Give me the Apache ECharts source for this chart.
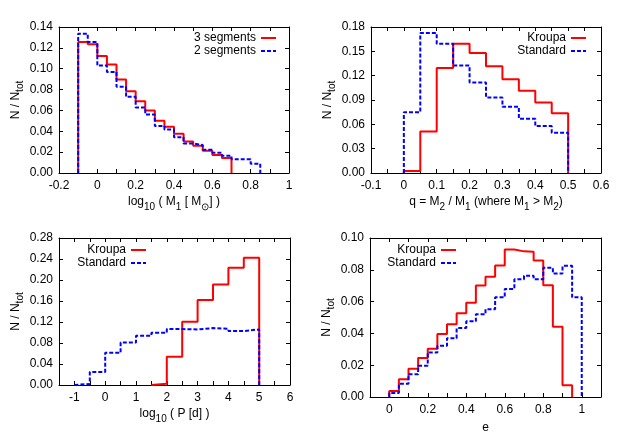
<!DOCTYPE html>
<html><head><meta charset="utf-8">
<script src="https://cdn.jsdelivr.net/npm/echarts@6/dist/echarts.min.js"></script>
<style>html,body{margin:0;padding:0;background:#fff}#c{width:623px;height:436px}</style>
</head><body><div id="c"></div>
<script>
// ---- Panel 1: primary mass log10(M1) ----
const massStart = -0.1, massBin = 0.05;
const mass3Segments = [0.1256,0.1234,0.1122,0.1040,0.0896,0.0784,0.0689,0.0600,0.0501,0.0443,0.0376,0.0303,0.0261,0.0214,0.0172,0.0143];
const mass2Segments = [0.1336,0.1256,0.1030,0.0969,0.0826,0.0730,0.0628,0.0561,0.0450,0.0418,0.0344,0.0284,0.0268,0.0223,0.0195,0.0166,0.0131,0.0131,0.0089];
// ---- Panel 2: mass ratio q ----
const qStart = 0.0, qBin = 0.05;
const qKroupa = [0.0025,0.0513,0.1296,0.1595,0.1480,0.1316,0.1156,0.1013,0.0869,0.0738];
const qStandard = [0.0750,0.1726,0.1595,0.1324,0.1115,0.0931,0.0816,0.0668,0.0578,0.0496];
// ---- Panel 3: log10(P) ----
const pKroupaStart = 1.5, pStandardStart = -1.0, pBin = 0.5;
const pKroupa = [0.0026,0.0536,0.1205,0.1620,0.1913,0.2232,0.2423];
const pStandard = [0.0019,0.0249,0.0612,0.0810,0.0938,0.0995,0.1065,0.1059,0.1084,0.1071,0.1027,0.1059];
// ---- Panel 4: eccentricity e ----
const eStart = 0.0, eBin = 0.05;
const eKroupa = [0.0038,0.0112,0.0177,0.0246,0.0303,0.0396,0.0457,0.0526,0.0592,0.0701,0.0756,0.0827,0.0928,0.0916,0.0914,0.0859,0.0703,0.0442,0.0074];
const eStandard = [0.0025,0.0084,0.0143,0.0196,0.0280,0.0322,0.0370,0.0434,0.0476,0.0520,0.0552,0.0627,0.0680,0.0741,0.0762,0.0741,0.0813,0.0777,0.0825,0.0627];

// ---- Tick labels and tick marks ----
const massTickLabels = [-0.2,0,0.2,0.4,0.6,0.8,1];
const massTicks = [-0.2,-0.1,0,0.1,0.2,0.3,0.4,0.5,0.6,0.7,0.8,0.9,1];
const qTickLabels = [-0.1,0,0.1,0.2,0.3,0.4,0.5,0.6];
const qTicks = [-0.1,-0.05,0,0.05,0.1,0.15,0.2,0.25,0.3,0.35,0.4,0.45,0.5,0.55,0.6];
const pTickLabels = [-1,0,1,2,3,4,5,6];
const pTicks = [-1.5,-1,-0.5,0,0.5,1,1.5,2,2.5,3,3.5,4,4.5,5,5.5,6];
const eTickLabels = [0,0.2,0.4,0.6,0.8,1];
const eTicks = [-0.1,0,0.1,0.2,0.3,0.4,0.5,0.6,0.7,0.8,0.9,1,1.1];

const FONT = '"Liberation Sans", Arial, Helvetica, sans-serif';
const RED = '#ff0000', BLUE = '#0000ff';

function outline(start, bin, vals) {
  const r = v => +v.toFixed(6);
  const pts = [[r(start), 0]];
  vals.forEach((v, i) => {
    pts.push([r(start + i * bin), v], [r(start + (i + 1) * bin), v]);
  });
  pts.push([r(start + vals.length * bin), 0]);
  return pts;
}

const rich = {
  n: {fontSize: 12, fontFamily: FONT, color: '#000', lineHeight: 12, verticalAlign: 'top'},
  s: {fontSize: 10, fontFamily: FONT, color: '#000', lineHeight: 16, verticalAlign: 'bottom'}
};

const grids = [
  {left: 59, top: 27, width: 230, height: 146},
  {left: 371, top: 27, width: 230, height: 146},
  {left: 59, top: 238, width: 231, height: 147},
  {left: 370, top: 238, width: 231, height: 159}
].map(g => Object.assign({outerBoundsMode: 'none', containLabel: false}, g));

const tickStyle = {show: true, inside: true, length: 4, lineStyle: {color: '#000', width: 1}};
const lineAx = {show: true, onZero: false, lineStyle: {color: '#000', width: 1}};

function xAxesFor(gi, min, max, ticks, labels, name, nameGap) {
  return [
    {type: 'value', gridIndex: gi, position: 'bottom', min, max,
     axisLine: lineAx, splitLine: {show: false},
     axisTick: Object.assign({customValues: ticks}, tickStyle),
     axisLabel: {customValues: labels, fontSize: 12, fontFamily: FONT, color: '#000', margin: 7,
                 formatter: v => String(+v.toFixed(4))},
     name, nameLocation: 'middle', nameGap, nameTextStyle: {rich}},
    {type: 'value', gridIndex: gi, position: 'top', min, max,
     axisLine: lineAx, splitLine: {show: false},
     axisTick: Object.assign({customValues: ticks}, tickStyle),
     axisLabel: {show: false, customValues: labels}}
  ];
}
function yAxesFor(gi, max, interval) {
  const yname = '{n|N / N}{s|tot}';
  return [
    {type: 'value', gridIndex: gi, position: 'left', min: 0, max, interval,
     axisLine: lineAx, splitLine: {show: false}, axisTick: tickStyle,
     axisLabel: {fontSize: 12, fontFamily: FONT, color: '#000', margin: 6, formatter: v => v.toFixed(2)},
     name: yname, nameLocation: 'middle', nameRotate: 90, nameGap: 33, nameTextStyle: {rich}},
    {type: 'value', gridIndex: gi, position: 'right', min: 0, max, interval,
     axisLine: lineAx, splitLine: {show: false}, axisTick: tickStyle,
     axisLabel: {show: false}}
  ];
}

const xAxis = [].concat(
  xAxesFor(0, -0.2, 1, massTicks, massTickLabels, '{n|log}{s|10}{n| ( M}{s|1}{n| [ M}{s|⊙}{n|] )}', 23),
  xAxesFor(1, -0.1, 0.6, qTicks, qTickLabels, '{n|q = M}{s|2}{n| / M}{s|1}{n| (where M}{s|1}{n| > M}{s|2}{n|)}', 23),
  xAxesFor(2, -1.5, 6, pTicks, pTickLabels, '{n|log}{s|10}{n| ( P [d] )}', 23),
  xAxesFor(3, -0.1, 1.1, eTicks, eTickLabels, '{n|e}', 25)
);
const yAxis = [].concat(
  yAxesFor(0, 0.14, 0.02),
  yAxesFor(1, 0.18, 0.03),
  yAxesFor(2, 0.28, 0.04),
  yAxesFor(3, 0.10, 0.02)
);

function ser(name, gi, data, blue) {
  return {
    type: 'line', name, xAxisIndex: 2 * gi, yAxisIndex: 2 * gi, data,
    symbol: 'none', showSymbol: false, animation: false, z: blue ? 3 : 2,
    lineStyle: {color: blue ? BLUE : RED, width: 2, type: blue ? [4, 2] : 'solid'},
    itemStyle: {color: blue ? BLUE : RED}
  };
}
const series = [
  ser('3 segments', 0, outline(massStart, massBin, mass3Segments), false),
  ser('2 segments', 0, outline(massStart, massBin, mass2Segments), true),
  ser('Kroupa', 1, outline(qStart, qBin, qKroupa), false),
  ser('Standard', 1, outline(qStart, qBin, qStandard), true),
  ser('Kroupa', 2, outline(pKroupaStart, pBin, pKroupa), false),
  ser('Standard', 2, outline(pStandardStart, pBin, pStandard), true),
  ser('Kroupa', 3, outline(eStart, eBin, eKroupa), false),
  ser('Standard', 3, outline(eStart, eBin, eStandard), true)
];

function leg(name, right, top) {
  return {data: [name], right, top, orient: 'horizontal', align: 'right', padding: 0,
          itemWidth: 15, itemHeight: 12, selectedMode: false,
          itemStyle: {opacity: 0},
          textStyle: {fontSize: 12, fontFamily: FONT, color: '#000'}};
}
const legend = [
  leg('3 segments', 346, 32), leg('2 segments', 346, 45),
  leg('Kroupa', 36, 32), leg('Standard', 36, 45),
  leg('Kroupa', 476, 244), leg('Standard', 476, 257),
  leg('Kroupa', 166, 244), leg('Standard', 166, 257)
];

const chart = echarts.init(document.getElementById('c'), null, {renderer: 'canvas'});
chart.setOption({animation: false, backgroundColor: '#fff', grid: grids, xAxis, yAxis, series, legend});
</script></body></html>
